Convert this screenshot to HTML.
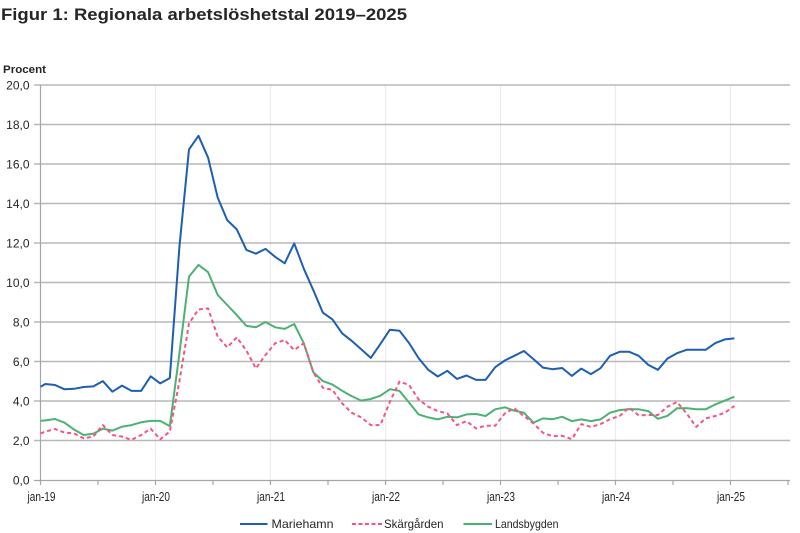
<!DOCTYPE html>
<html><head><meta charset="utf-8"><style>
html,body{margin:0;padding:0;background:#fff;}
svg{display:block;}
text{font-family:"Liberation Sans",sans-serif;fill:#262626;}
</style></head><body>
<svg width="800" height="533" viewBox="0 0 800 533" xmlns="http://www.w3.org/2000/svg">
<rect width="800" height="533" fill="#fff"/>
<text x="1" y="20" font-size="17" font-weight="bold" fill="#111" textLength="406" lengthAdjust="spacingAndGlyphs">Figur 1: Regionala arbetslöshetstal 2019–2025</text>
<text x="3" y="73" font-size="11" font-weight="bold" fill="#111" textLength="43" lengthAdjust="spacingAndGlyphs">Procent</text>
<g stroke="#ececec" stroke-width="1.2">
<line x1="155.5" y1="85" x2="155.5" y2="480"/>
<line x1="270.5" y1="85" x2="270.5" y2="480"/>
<line x1="385.5" y1="85" x2="385.5" y2="480"/>
<line x1="500.5" y1="85" x2="500.5" y2="480"/>
<line x1="615.5" y1="85" x2="615.5" y2="480"/>
<line x1="730.5" y1="85" x2="730.5" y2="480"/>
</g>
<g stroke="#b8b8b8" stroke-width="1.6">
<line x1="34" y1="85" x2="790" y2="85"/>
<line x1="34" y1="124.5" x2="790" y2="124.5"/>
<line x1="34" y1="164" x2="790" y2="164"/>
<line x1="34" y1="203.5" x2="790" y2="203.5"/>
<line x1="34" y1="243" x2="790" y2="243"/>
<line x1="34" y1="282.5" x2="790" y2="282.5"/>
<line x1="34" y1="322" x2="790" y2="322"/>
<line x1="34" y1="361.5" x2="790" y2="361.5"/>
<line x1="34" y1="401" x2="790" y2="401"/>
<line x1="34" y1="440.5" x2="790" y2="440.5"/>
</g>
<g stroke="#a6a6a6" stroke-width="1.2">
<line x1="40.5" y1="85" x2="40.5" y2="485"/>
<line x1="34" y1="480.5" x2="790" y2="480.5"/>
<line x1="98" y1="480" x2="98" y2="485"/>
<line x1="155.5" y1="480" x2="155.5" y2="485"/>
<line x1="213" y1="480" x2="213" y2="485"/>
<line x1="270.5" y1="480" x2="270.5" y2="485"/>
<line x1="328" y1="480" x2="328" y2="485"/>
<line x1="385.5" y1="480" x2="385.5" y2="485"/>
<line x1="443" y1="480" x2="443" y2="485"/>
<line x1="500.5" y1="480" x2="500.5" y2="485"/>
<line x1="558" y1="480" x2="558" y2="485"/>
<line x1="615.5" y1="480" x2="615.5" y2="485"/>
<line x1="673" y1="480" x2="673" y2="485"/>
<line x1="730.5" y1="480" x2="730.5" y2="485"/>
<line x1="788" y1="480" x2="788" y2="485"/>
</g>
<g font-size="12" text-anchor="end">
<text x="29.5" y="89.5">20,0</text>
<text x="29.5" y="129">18,0</text>
<text x="29.5" y="168.5">16,0</text>
<text x="29.5" y="208">14,0</text>
<text x="29.5" y="247.5">12,0</text>
<text x="29.5" y="287">10,0</text>
<text x="29.5" y="326.5">8,0</text>
<text x="29.5" y="366">6,0</text>
<text x="29.5" y="405.5">4,0</text>
<text x="29.5" y="445">2,0</text>
<text x="29.5" y="484.5">0,0</text>
</g>
<g font-size="12.5" text-anchor="middle">
<text x="41.5" y="501" textLength="28" lengthAdjust="spacingAndGlyphs">jan-19</text>
<text x="156" y="501" textLength="28" lengthAdjust="spacingAndGlyphs">jan-20</text>
<text x="271" y="501" textLength="28" lengthAdjust="spacingAndGlyphs">jan-21</text>
<text x="386" y="501" textLength="28" lengthAdjust="spacingAndGlyphs">jan-22</text>
<text x="501" y="501" textLength="28" lengthAdjust="spacingAndGlyphs">jan-23</text>
<text x="616" y="501" textLength="28" lengthAdjust="spacingAndGlyphs">jan-24</text>
<text x="731" y="501" textLength="28" lengthAdjust="spacingAndGlyphs">jan-25</text>
</g>
<g fill="none" stroke-width="2" stroke-linejoin="round">
<polyline stroke="#4db174" points="40.5,420.9 45.4,420.4 55.0,419.0 64.5,422.7 74.1,429.6 83.7,435.0 93.3,433.8 102.8,428.7 112.4,430.6 122.0,426.7 131.5,425.1 141.1,422.3 150.7,420.9 160.2,420.9 169.8,426.1 179.4,353.6 189.0,276.6 198.5,264.9 208.1,272.2 217.7,294.9 227.2,305.0 236.8,315.1 246.4,325.9 255.9,327.3 265.5,322.0 275.1,327.3 284.7,328.9 294.2,324.0 303.8,343.3 313.4,372.4 322.9,381.1 332.5,384.6 342.1,390.7 351.6,396.1 361.2,400.6 370.8,399.0 380.4,395.7 389.9,389.2 399.5,390.9 409.1,402.6 418.6,414.4 428.2,417.4 437.8,419.4 447.3,416.8 456.9,417.4 466.5,414.4 476.1,414.0 485.6,416.0 495.2,409.3 504.8,407.3 514.3,410.7 523.9,412.7 533.5,422.7 543.0,418.4 552.6,419.2 562.2,416.8 571.8,421.1 581.3,419.4 590.9,421.1 600.5,419.4 610.0,412.7 619.6,410.1 629.2,409.1 638.7,409.3 648.3,411.1 657.9,418.8 667.5,415.8 677.0,408.3 686.6,408.1 696.2,409.3 705.7,409.3 715.3,404.4 724.9,400.6 734.4,396.7"/>
<polyline stroke="#f5567f" stroke-dasharray="4 3" points="40.5,433.4 45.4,431.6 55.0,429.0 64.5,432.6 74.1,433.4 83.7,438.3 93.3,436.6 102.8,425.1 112.4,435.0 122.0,436.6 131.5,439.9 141.1,435.0 150.7,428.7 160.2,439.3 169.8,431.6 179.4,381.3 189.0,323.4 198.5,309.4 208.1,308.4 217.7,336.6 227.2,347.3 236.8,337.4 246.4,350.6 255.9,368.4 265.5,355.0 275.1,343.3 284.7,340.0 294.2,350.0 303.8,343.3 313.4,372.4 322.9,387.8 332.5,389.9 342.1,403.4 351.6,412.7 361.2,417.4 370.8,425.1 380.4,425.1 389.9,401.8 399.5,381.6 409.1,385.0 418.6,399.4 428.2,406.7 437.8,411.1 447.3,413.4 456.9,425.1 466.5,421.1 476.1,428.5 485.6,425.7 495.2,425.7 504.8,413.4 514.3,408.3 523.9,416.0 533.5,423.5 543.0,432.8 552.6,436.2 562.2,435.8 571.8,439.1 581.3,424.1 590.9,426.9 600.5,424.1 610.0,419.2 619.6,416.0 629.2,407.7 638.7,415.4 648.3,415.0 657.9,415.0 667.5,406.7 677.0,402.0 686.6,413.4 696.2,426.9 705.7,418.4 715.3,416.0 724.9,412.7 734.4,405.9"/>
<polyline stroke="#1d5fb1" points="40.5,386.8 45.4,384.0 55.0,385.0 64.5,389.3 74.1,388.8 83.7,387.0 93.3,386.4 102.8,381.1 112.4,391.7 122.0,385.6 131.5,390.9 141.1,390.9 150.7,376.3 160.2,383.4 169.8,378.1 179.4,246.9 189.0,149.4 198.5,135.8 208.1,157.7 217.7,197.6 227.2,220.1 236.8,229.4 246.4,249.9 255.9,253.7 265.5,248.9 275.1,256.8 284.7,263.3 294.2,243.4 303.8,268.7 313.4,290.4 322.9,312.7 332.5,319.4 342.1,333.3 351.6,340.8 361.2,349.3 370.8,357.9 380.4,343.9 389.9,329.7 399.5,330.7 409.1,343.1 418.6,358.1 428.2,369.8 437.8,376.5 447.3,370.8 456.9,378.9 466.5,375.5 476.1,379.9 485.6,379.9 495.2,367.2 504.8,360.5 514.3,355.8 523.9,351.0 533.5,359.1 543.0,367.6 552.6,369.2 562.2,368.0 571.8,375.9 581.3,368.6 590.9,374.1 600.5,368.2 610.0,355.8 619.6,351.8 629.2,351.8 638.7,355.8 648.3,364.9 657.9,369.8 667.5,358.5 677.0,353.2 686.6,349.8 696.2,349.8 705.7,349.8 715.3,343.1 724.9,339.4 734.4,338.4"/>
</g>
<line x1="240" y1="524" x2="267.5" y2="524" stroke="#1d5fb1" stroke-width="2"/>
<text x="271.5" y="528" font-size="12" textLength="62" lengthAdjust="spacingAndGlyphs">Mariehamn</text>
<line x1="352" y1="524" x2="382" y2="524" stroke="#f5567f" stroke-width="2" stroke-dasharray="4 2.5"/>
<text x="384" y="528" font-size="12" textLength="59.5" lengthAdjust="spacingAndGlyphs">Skärgården</text>
<line x1="463.5" y1="524" x2="492" y2="524" stroke="#4db174" stroke-width="2"/>
<text x="495" y="528" font-size="12" textLength="63.5" lengthAdjust="spacingAndGlyphs">Landsbygden</text>
</svg>
</body></html>
